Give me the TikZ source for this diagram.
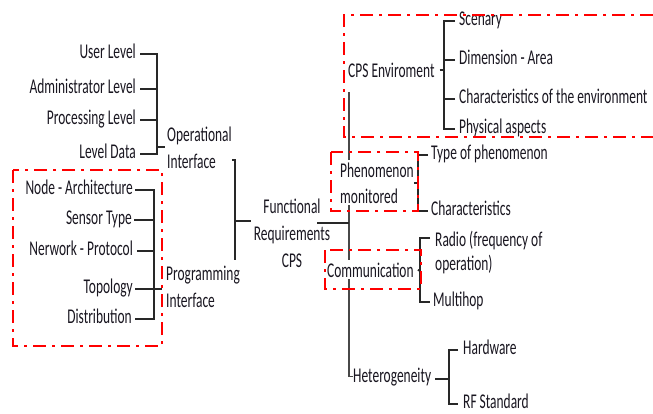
\documentclass[tikz,border=0pt]{standalone}
\usepackage{fontspec}
\setmainfont{Carlito}[FakeStretch=0.64]
\usetikzlibrary{backgrounds}
\definecolor{txt}{RGB}{25,22,32}
\definecolor{ln}{RGB}{40,40,40}
\begin{document}
\begin{tikzpicture}[x=1pt,y=-1pt,
  lbl/.style={inner xsep=0pt, inner ysep=2pt, font=\fontsize{21}{27}\selectfont, text=txt},
  leaf/.style={lbl, inner ysep=1pt, text height=12pt, text depth=3pt},
  br/.style={draw=ln, line width=1.7pt},
  trunk/.style={draw=ln!85, line width=1.2pt},
  redbox/.style={draw=red, line width=2.8pt, dash pattern=on 13pt off 6pt on 3pt off 6pt}]
\useasboundingbox (0,0) rectangle (653,413);

% ---------- operational interface ----------
\node[leaf, anchor=east] (ul) at (136,54)  {User Level};
\node[leaf, anchor=east] (al) at (136,89)  {Administrator Level};
\node[leaf, anchor=east] (pl) at (136,120) {Processing Level};
\node[leaf, anchor=east] (ld) at (136,154) {Level Data};
% multi-line labels are placed by the baseline of their last line
\node[lbl, anchor=base west, align=left] (oi) at (167,168) {Operational\\Interface};

% ---------- programming interface ----------
\node[leaf, anchor=east] (na) at (133,190) {Node - Architecture};
\node[leaf, anchor=east] (st) at (132,220) {Sensor Type};
\node[leaf, anchor=east] (np) at (133,251) {Nerwork - Protocol};
\node[leaf, anchor=east] (tp) at (133,289) {Topology};
\node[leaf, anchor=east] (ds) at (132,319) {Distribution};
\node[lbl, anchor=base west, align=left] (pi) at (166,307) {Programming\\Interface};

% ---------- root ----------
\node[lbl, anchor=base, align=center] (fr) at (292,267) {Functional\\Requirements\\CPS};

% ---------- right-hand branches ----------
\node[lbl, anchor=base west] (env) at (348,77) {CPS Enviroment};
\node[leaf, anchor=west] (sc) at (459,21)  {Scenary};
\node[leaf, anchor=west] (da) at (459,60)  {Dimension - Area};
\node[leaf, anchor=west] (ce) at (459,99)  {Characteristics of the environment};
\node[leaf, anchor=west] (pa) at (459,129) {Physical aspects};

\node[lbl, anchor=base west, align=left, fill=white] (pm) at (340,203) {Phenomenon\\[-1pt]monitored};
\node[leaf, anchor=west] (tph) at (431,155) {Type of phenomenon};
\node[leaf, anchor=west] (ch)  at (431,211) {Characteristics};

\node[lbl, anchor=base west, fill=white] (com) at (327,277) {Communication};
\node[lbl, anchor=base west, align=left] (rad) at (435,270) {Radio (frequency of\\[-3pt]operation)};
\node[leaf, anchor=west] (mh) at (433,302) {Multihop};

\node[lbl, anchor=base west, fill=white] (het) at (353,382) {Heterogeneity};
\node[leaf, anchor=west] (hw) at (463,350) {Hardware};
\node[leaf, anchor=west] (rf) at (463,404) {RF Standard};

% ---------- joints ----------
\coordinate (jOI)  at (157,147);
\coordinate (jPI)  at (154,289);
\coordinate (bTop) at (232,160);
\coordinate (bBot) at (235,260);
\coordinate (jFR)  at (235,221);
\coordinate (tTop) at (349,92);
\coordinate (jT)   at (349,223);
\coordinate (jEnv) at (444,70);
\coordinate (jPm)  at (418,183);
\coordinate (jCom) at (420,271);
\coordinate (jRad) at (420,238);
\coordinate (jHet) at (449,379);

% ---------- connectors ----------
\draw[br] ([xshift=4pt]ul.east) -- (ul.east -| jOI) -- (ld.east -| jOI) -- ([xshift=4pt]ld.east);
\draw[br] ([xshift=4pt]al.east) -- (al.east -| jOI);
\draw[br] ([xshift=4pt]pl.east) -- (pl.east -| jOI);
\draw[br] (jOI) -- ([xshift=-2pt]jOI -| oi.west);

\draw[br] ([xshift=2pt]na.east) -- (na.east -| jPI) -- (ds.east -| jPI) -- ([xshift=3pt]ds.east);
\draw[br] ([xshift=2pt]st.east) -- (st.east -| jPI);
\draw[br] ([xshift=4pt]np.east) -- (np.east -| jPI);
\draw[br] ([xshift=2pt]tp.east) -- ([xshift=-4pt]tp.east -| pi.west);

\draw[br] (bTop) -- (bTop -| bBot) -- (bBot);
\draw[br] (jFR) -- ++(16,0);

\begin{scope}[on background layer]
  \draw[trunk] (tTop) -- (tTop |- het.west) -- (het.west);
\end{scope}
\draw[br] ([xshift=-13pt]fr.east |- jT) -- (jT);

\draw[br] ([xshift=5pt]env.east) -- (env.east -| jEnv);
\draw[br] ([xshift=-4pt]sc.west) -- (sc.west -| jEnv) -- (pa.west -| jEnv) -- ([xshift=-4pt]pa.west);
\draw[br] ([xshift=-4pt]da.west) -- (da.west -| jEnv);
\draw[br] ([xshift=-4pt]ce.west) -- (ce.west -| jEnv);

\draw[br] (pm.east |- jPm) -- (jPm);
\draw[br] ([xshift=-3pt]tph.west) -- (tph.west -| jPm) -- (ch.west -| jPm) -- ([xshift=-3pt]ch.west);

\draw[br] ([xshift=4pt]com.east) -- (jCom);
\draw[br] ([xshift=-5pt]rad.west |- jRad) -- (jRad) -- (mh.west -| jRad) -- ([xshift=-3pt]mh.west);

\draw[br] ([xshift=4pt]het.east |- jHet) -- (jHet);
\draw[br] ([xshift=-5pt]hw.west) -- (hw.west -| jHet) -- (rf.west -| jHet) -- ([xshift=-5pt]rf.west);

% ---------- dash-dot frames ----------
\draw[redbox] (13,170) rectangle (162,346);
\draw[redbox] (653,15) -- (344,15) -- (344,137) -- (653,137);
\draw[redbox] (331,152) rectangle (418,211);
\draw[redbox] (325,250) rectangle (421,289);
\end{tikzpicture}
\end{document}
